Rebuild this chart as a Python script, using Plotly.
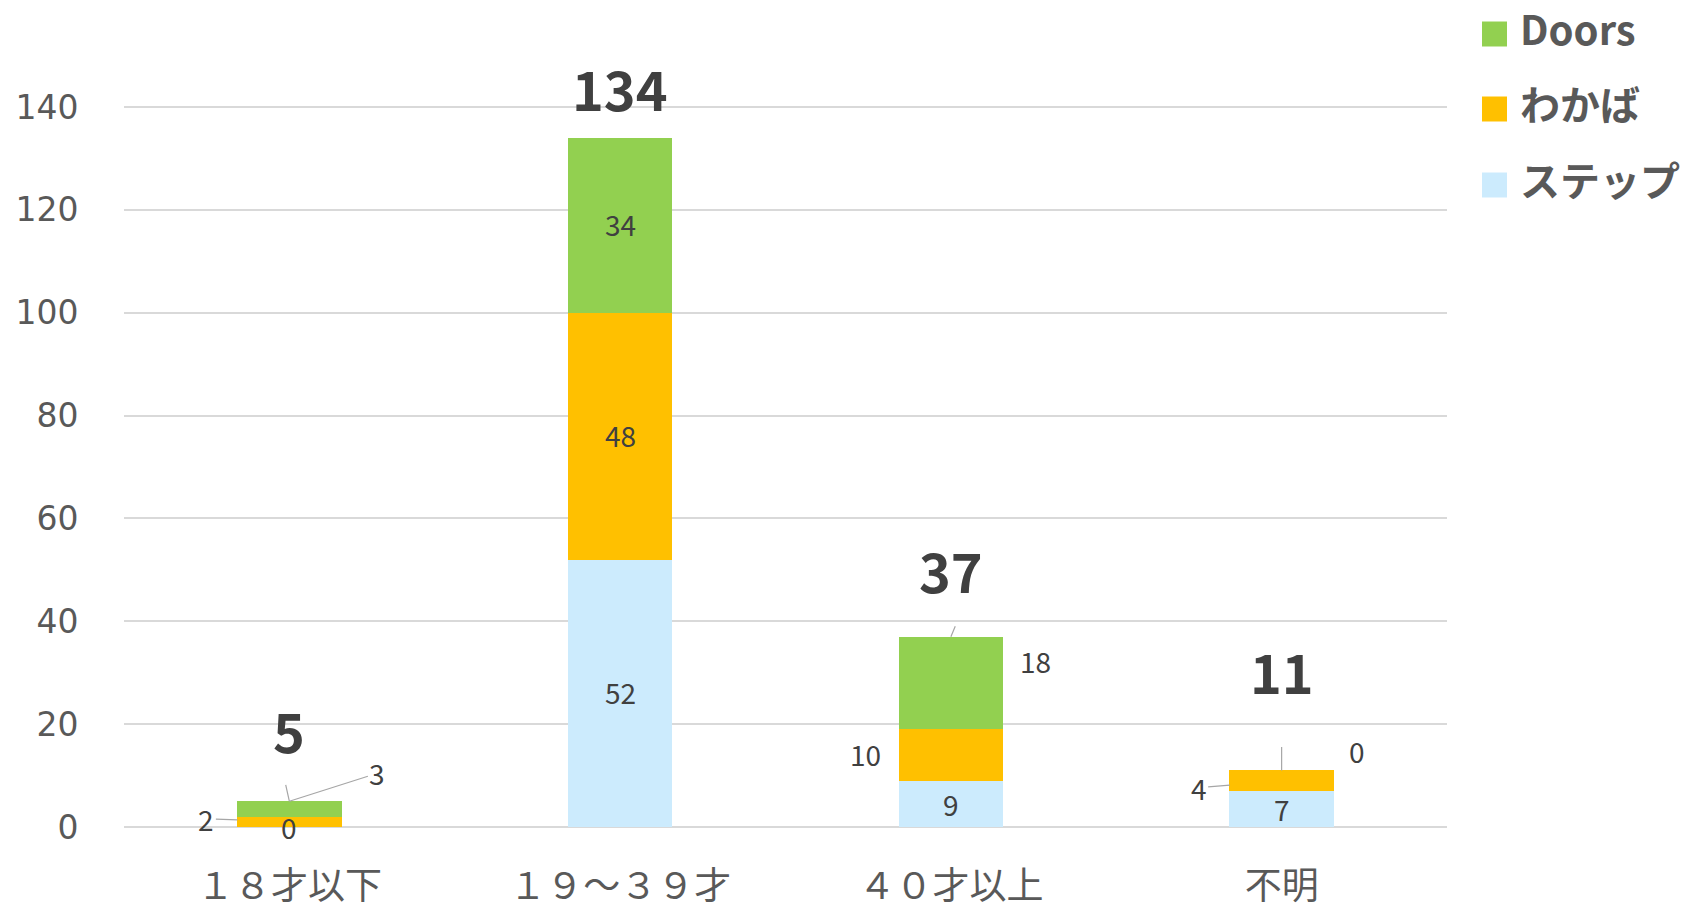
import plotly.graph_objects as go

# ---- data ----
categories = ["１８才以下", "１９～３９才", "４０才以上", "不明"]
series_names = ["ステップ", "わかば", "Doors"]
step_values = [0, 52, 9, 7]
wakaba_values = [2, 48, 10, 4]
doors_values = [3, 34, 18, 0]
y_tick_values = [0, 20, 40, 60, 80, 100, 120, 140]

series_values = [step_values, wakaba_values, doors_values]
totals = [sum(v) for v in zip(*series_values)]

# ---- styles ----
colors = {"ステップ": "#CCEBFD", "わかば": "#FFC000", "Doors": "#92D050"}
FONT = "Noto Sans CJK JP"
W, H = 1691, 911
L, R, T, B = 124, 244, 106, 83
PW, PH = W - L - R, H - T - B

# label placement per (series index, category index): (dx, dy, arrow, standoff, anchor)
label_style = {
    (0, 0): (0, 0, False, 0, "mid"),
    (1, 0): (-83, -3, True, 52, "mid"),
    (2, 0): (88, -28, True, 0, "top"),
    (0, 1): (0, -1, False, 0, "mid"),
    (1, 1): (0, -1, False, 0, "mid"),
    (2, 1): (0, -1, False, 0, "mid"),
    (0, 2): (0, 0, False, 0, "mid"),
    (1, 2): (-85, -1, False, 0, "mid"),
    (2, 2): (85, -22, False, 0, "mid"),
    (0, 3): (0, 0, False, 0, "mid"),
    (1, 3): (-83, 7, True, 52, "mid"),
    (2, 3): (75, -19, False, 0, "top"),
}
leader_ticks = [(0, -4, -18), (2, 5, -12), (3, 0, -25)]
total_yshift = [72, 50, 67, 100]

fig = go.Figure()
for name, vals in zip(series_names, series_values):
    fig.add_trace(go.Bar(
        name=name, x=categories, y=vals,
        marker=dict(color=colors[name], line=dict(width=0)),
        showlegend=False, hoverinfo="x+y+name",
    ))

annotations = []
label_font = dict(family=FONT, size=28, color="#404040")
base = [0] * len(categories)
for si, vals in enumerate(series_values):
    for ci, v in enumerate(vals):
        dx, dy, arrow, standoff, anchor = label_style[(si, ci)]
        yv = base[ci] + (v / 2 if anchor == "mid" else v)
        if arrow:
            annotations.append(dict(
                x=categories[ci], y=yv, xref="x", yref="y", text=str(v),
                showarrow=True, ax=dx, ay=dy, arrowhead=0, arrowwidth=1.2,
                arrowcolor="#A6A6A6", standoff=standoff, font=label_font,
            ))
        else:
            annotations.append(dict(
                x=categories[ci], y=yv, xref="x", yref="y", text=str(v),
                showarrow=False, xshift=dx, yshift=-dy, font=label_font,
            ))
        base[ci] += v

for ci, dx, dy in leader_ticks:
    annotations.append(dict(
        x=categories[ci], y=totals[ci], xref="x", yref="y", text="",
        showarrow=True, ax=dx, ay=dy, arrowhead=0, arrowwidth=1.2,
        arrowcolor="#A6A6A6",
    ))

for ci, tot in enumerate(totals):
    annotations.append(dict(
        x=categories[ci], y=tot, xref="x", yref="y", text=f"<b>{tot}</b>",
        showarrow=False, yshift=total_yshift[ci],
        font=dict(family=FONT, size=54, color="#404040"),
    ))

def px_to_paper_x(px):
    return (px - L) / PW

def px_to_paper_y(py):
    return (H - B - py) / PH

shapes = []
legend_order = ["Doors", "わかば", "ステップ"]
legend_centers = [34, 109, 185]
for name, cy in zip(legend_order, legend_centers):
    shapes.append(dict(
        type="rect", xref="paper", yref="paper",
        x0=px_to_paper_x(1482), x1=px_to_paper_x(1507),
        y0=px_to_paper_y(cy + 12.5), y1=px_to_paper_y(cy - 12.5),
        fillcolor=colors[name], line=dict(width=0),
    ))
    annotations.append(dict(
        xref="paper", yref="paper", x=px_to_paper_x(1518), y=px_to_paper_y(cy - 6),
        xanchor="left", yanchor="middle", text=f"<b>{name}</b>", showarrow=False,
        font=dict(family=FONT, size=40, color="#595959"),
    ))

fig.update_layout(
    width=W, height=H,
    margin=dict(l=L, r=R, t=T, b=B, pad=0, autoexpand=False),
    barmode="stack", bargap=0.684,
    plot_bgcolor="white", paper_bgcolor="white",
    font=dict(family=FONT, color="#595959"),
    annotations=annotations, shapes=shapes,
    showlegend=False,
)
fig.update_yaxes(
    range=[-0.2, 140.2], tickvals=y_tick_values, showgrid=True,
    gridcolor="#D9D9D9", gridwidth=1.5, zeroline=False, showline=False,
    ticks="outside", ticklen=38, tickcolor="rgba(0,0,0,0)", automargin=False,
    tickfont=dict(family="DejaVu Sans", size=33, color="#595959"),
)
fig.update_xaxes(
    showgrid=False, showline=False, zeroline=False, automargin=False,
    ticks="outside", ticklen=26, tickcolor="rgba(0,0,0,0)",
    tickfont=dict(family=FONT, size=37, color="#595959"),
)

fig.write_html("out.html", config={"displayModeBar": False},
               post_script="document.body.style.margin='0';")
